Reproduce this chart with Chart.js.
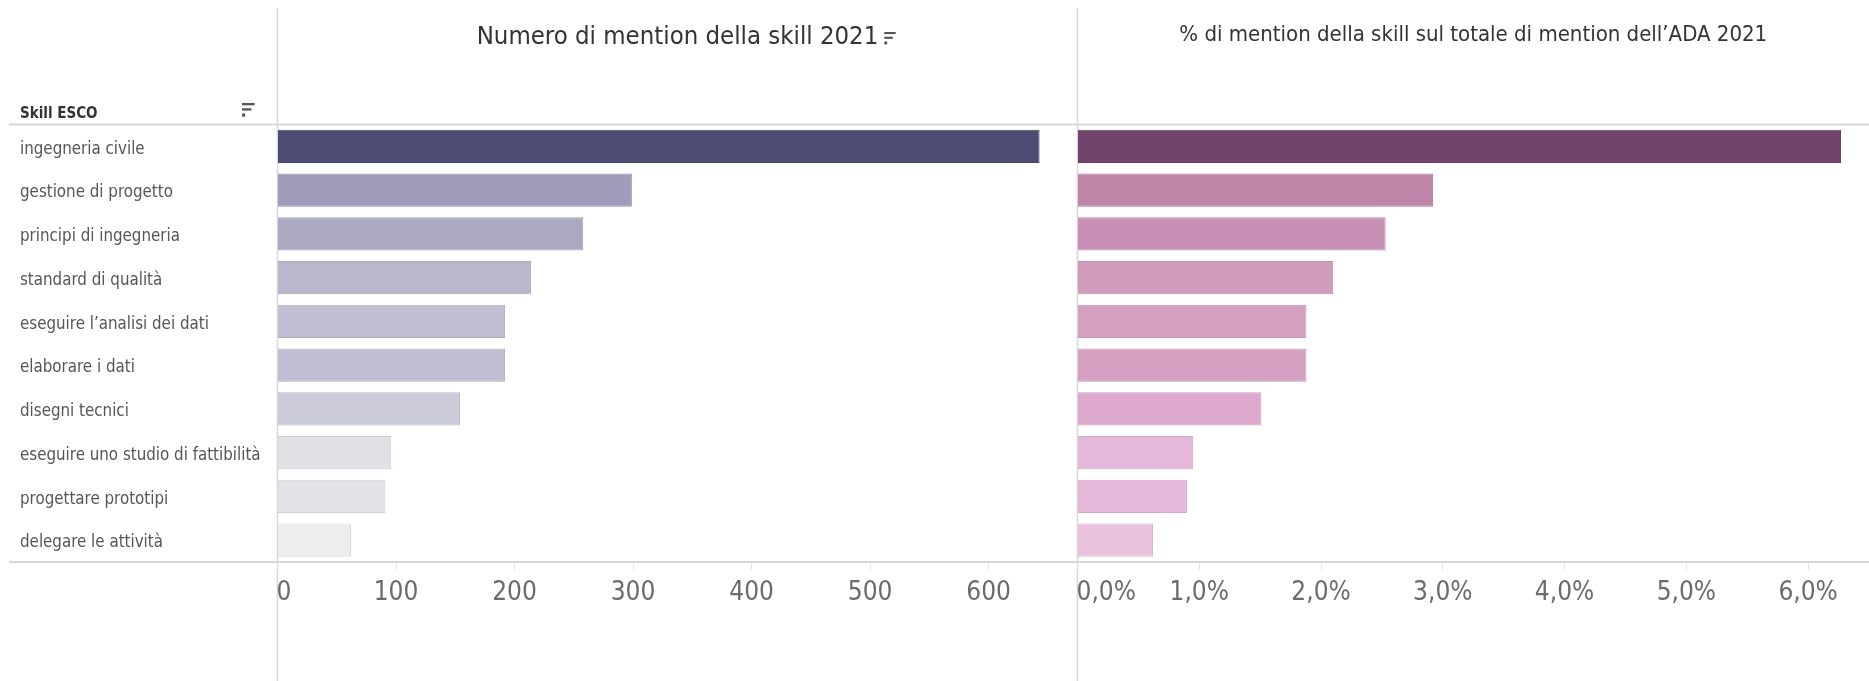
<!DOCTYPE html>
<html lang="it">
<head>
<meta charset="utf-8">
<title>Skill ESCO 2021</title>
<script src="https://cdn.jsdelivr.net/npm/chart.js@4.4.1/dist/chart.umd.min.js"></script>
<style>
  html, body { margin: 0; padding: 0; background: #fff; }
  #wrap { position: relative; width: 1869px; height: 681px; }
  #wrap canvas { position: absolute; left: 0; top: 0; }
</style>
</head>
<body>
<div id="wrap">
  <canvas id="counts" width="1869" height="681"></canvas>
  <canvas id="shares" width="1869" height="681"></canvas>
</div>
<script>
const skills = [
  "ingegneria civile",
  "gestione di progetto",
  "principi di ingegneria",
  "standard di qualità",
  "eseguire l’analisi dei dati",
  "elaborare i dati",
  "disegni tecnici",
  "eseguire uno studio di fattibilità",
  "progettare prototipi",
  "delegare le attività",
];
const mentions = [643, 299, 258, 214, 192, 192, 154, 96, 91, 62];
const sharePct = [6.27, 2.92, 2.53, 2.10, 1.88, 1.88, 1.51, 0.95, 0.90, 0.62];

const countTicks = [0, 100, 200, 300, 400, 500, 600];
const shareTicks = [0, 1, 2, 3, 4, 5, 6];

const countColors = [
  "#4c4b71", "#9e9cb8", "#aaa9c1", "#b8b7cc", "#bfbed2",
  "#bfbed2", "#cccbda", "#e0e0e6", "#e2e2e8", "#ededed",
];
const shareColors = [
  "#71446c", "#c086aa", "#c890b4", "#d19bbd", "#d6a0c3",
  "#d6a0c3", "#dca9cc", "#e5b8d9", "#e6b8da", "#e9c2e0",
];

const FONT = "'DejaVu Sans Condensed', 'Liberation Sans', sans-serif";
Chart.defaults.font.family = FONT;

const SPLIT = 1077.5;   // border between the two panels
const AXIS_Y = 562;     // horizontal axis line
const HEAD_Y = 124.5;   // line under the header row
const TICK_SIZE = 26;
const TICK_PAD = 8;
const TICK_LEN = 8;

function shade(hex, f) {
  const n = parseInt(hex.slice(1), 16);
  const r = Math.round(((n >> 16) & 255) * f);
  const g = Math.round(((n >> 8) & 255) * f);
  const b = Math.round((n & 255) * f);
  return `rgb(${r},${g},${b})`;
}

const fmtShare = (v) => v.toFixed(1).replace(".", ",") + "%";

function sortIcon(ctx, x, y, s) {
  ctx.fillStyle = "#555";
  ctx.fillRect(x, y, 12 * s, 2.2 * s);
  ctx.fillRect(x, y + 5 * s, 9 * s, 2.2 * s);
  ctx.fillRect(x, y + 10 * s, 3 * s, 3 * s);
}

// headers, rules and the left-aligned zero label of each panel
const panelPlugin = {
  id: "panel",
  beforeDraw(chart, args, opts) {
    const ctx = chart.ctx;
    if (opts.rules) {
      ctx.save();
      ctx.strokeStyle = "#d7d7d7";
      ctx.lineWidth = 2;
      ctx.beginPath();
      ctx.moveTo(9, HEAD_Y); ctx.lineTo(1869, HEAD_Y);
      ctx.moveTo(9, AXIS_Y); ctx.lineTo(1869, AXIS_Y);
      ctx.stroke();
      ctx.lineWidth = 1.5;
      ctx.beginPath();
      ctx.moveTo(chart.chartArea.left, 8); ctx.lineTo(chart.chartArea.left, 681);
      ctx.moveTo(SPLIT, 8); ctx.lineTo(SPLIT, 681);
      ctx.stroke();
      ctx.restore();
    }
  },
  afterDraw(chart, args, opts) {
    const ctx = chart.ctx;
    const area = chart.chartArea;
    const x = chart.scales.x;
    ctx.save();
    ctx.textBaseline = "middle";

    ctx.font = `${opts.titleSize}px ${FONT}`;
    ctx.fillStyle = "#333";
    ctx.textAlign = "center";
    const cx = (area.left + area.right) / 2;
    ctx.fillText(opts.title, cx, opts.titleY);
    if (opts.titleIcon) {
      const w = ctx.measureText(opts.title).width;
      sortIcon(ctx, cx + w / 2 + 6, opts.titleY - 5, 0.95);
    }

    if (opts.header) {
      ctx.font = `bold 15px ${FONT}`;
      ctx.fillStyle = "#333";
      ctx.textAlign = "left";
      ctx.fillText(opts.header, 20, 114);
      sortIcon(ctx, 242, 103, 1.05);
    }

    const first = x.ticks[0].value;
    ctx.font = `${TICK_SIZE}px ${FONT}`;
    ctx.fillStyle = "#6b6b6b";
    ctx.textAlign = "left";
    ctx.fillText(opts.zeroFmt(first), x.getPixelForValue(first) - 1,
      x.top + TICK_LEN + TICK_PAD + TICK_SIZE * 0.6);
    ctx.restore();
  },
};

function xScale(max, ticks, fmt) {
  return {
    min: 0,
    max: max,
    afterBuildTicks: (s) => { s.ticks = ticks.map((v) => ({ value: v })); },
    afterFit: (s) => { s.height = 681 - AXIS_Y; },
    border: { display: false },
    grid: { drawOnChartArea: false, drawTicks: true, tickLength: TICK_LEN, tickColor: "#e4e4e4" },
    ticks: {
      padding: TICK_PAD,
      color: "#6b6b6b",
      font: { size: TICK_SIZE },
      maxRotation: 0,
      callback: (v, i) => (i === 0 ? "" : fmt(v)),
    },
  };
}

const common = {
  indexAxis: "y",
  responsive: false,
  animation: false,
  events: [],
};

new Chart(document.getElementById("counts"), {
  type: "bar",
  data: {
    labels: skills,
    datasets: [{
      data: mentions,
      backgroundColor: countColors,
      borderColor: countColors.map((c) => shade(c, 0.92)),
      borderWidth: 1,
      barPercentage: 0.755,
      categoryPercentage: 1,
    }],
  },
  options: {
    ...common,
    layout: { padding: { left: 20, right: 1869 - SPLIT, top: HEAD_Y, bottom: 0 } },
    plugins: {
      legend: { display: false },
      tooltip: { enabled: false },
      panel: {
        rules: true,
        title: "Numero di mention della skill 2021",
        titleSize: 25.5,
        titleY: 37,
        titleIcon: true,
        header: "Skill ESCO",
        zeroFmt: (v) => String(v),
      },
    },
    scales: {
      x: xScale(675, countTicks, (v) => String(v)),
      y: {
        afterFit: (s) => { s.width = 277.5 - 20; },
        border: { display: false },
        grid: { display: false },
        ticks: { crossAlign: "far", color: "#555", font: { size: 16.8 }, padding: 0, labelOffset: 3 },
      },
    },
  },
  plugins: [panelPlugin],
});

new Chart(document.getElementById("shares"), {
  type: "bar",
  data: {
    labels: skills,
    datasets: [{
      data: sharePct,
      backgroundColor: shareColors,
      borderColor: shareColors.map((c) => shade(c, 0.93)),
      borderWidth: 1,
      barPercentage: 0.755,
      categoryPercentage: 1,
    }],
  },
  options: {
    ...common,
    layout: { padding: { left: SPLIT, right: 0, top: HEAD_Y, bottom: 0 } },
    plugins: {
      legend: { display: false },
      tooltip: { enabled: false },
      panel: {
        rules: false,
        title: "% di mention della skill sul totale di mention dell’ADA 2021",
        titleSize: 22,
        titleY: 35,
        titleIcon: false,
        header: null,
        zeroFmt: fmtShare,
      },
    },
    scales: {
      x: xScale(6.5, shareTicks, fmtShare),
      y: { display: false },
    },
  },
  plugins: [panelPlugin],
});
</script>
</body>
</html>
